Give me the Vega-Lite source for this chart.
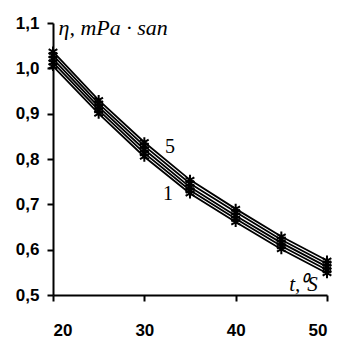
{
  "$schema": "https://vega.github.io/schema/vega-lite/v6.json",
  "width": 274,
  "height": 272,
  "autosize": "none",
  "padding": {"left": 53, "top": 23, "right": 20, "bottom": 47},
  "background": "white",
  "config": {"view": {"stroke": null}},
  "datasets": {
    "curves": [
      {"t": 20, "eta": 1.005, "s": "1"}, {"t": 25, "eta": 0.9, "s": "1"}, {"t": 30, "eta": 0.805, "s": "1"}, {"t": 35, "eta": 0.724, "s": "1"}, {"t": 40, "eta": 0.661, "s": "1"}, {"t": 45, "eta": 0.601, "s": "1"}, {"t": 50, "eta": 0.548, "s": "1"},
      {"t": 20, "eta": 1.013, "s": "2"}, {"t": 25, "eta": 0.908, "s": "2"}, {"t": 30, "eta": 0.813, "s": "2"}, {"t": 35, "eta": 0.731, "s": "2"}, {"t": 40, "eta": 0.668, "s": "2"}, {"t": 45, "eta": 0.608, "s": "2"}, {"t": 50, "eta": 0.555, "s": "2"},
      {"t": 20, "eta": 1.021, "s": "3"}, {"t": 25, "eta": 0.915, "s": "3"}, {"t": 30, "eta": 0.821, "s": "3"}, {"t": 35, "eta": 0.738, "s": "3"}, {"t": 40, "eta": 0.675, "s": "3"}, {"t": 45, "eta": 0.615, "s": "3"}, {"t": 50, "eta": 0.562, "s": "3"},
      {"t": 20, "eta": 1.029, "s": "4"}, {"t": 25, "eta": 0.922, "s": "4"}, {"t": 30, "eta": 0.829, "s": "4"}, {"t": 35, "eta": 0.746, "s": "4"}, {"t": 40, "eta": 0.683, "s": "4"}, {"t": 45, "eta": 0.622, "s": "4"}, {"t": 50, "eta": 0.569, "s": "4"},
      {"t": 20, "eta": 1.037, "s": "5"}, {"t": 25, "eta": 0.93, "s": "5"}, {"t": 30, "eta": 0.837, "s": "5"}, {"t": 35, "eta": 0.754, "s": "5"}, {"t": 40, "eta": 0.69, "s": "5"}, {"t": 45, "eta": 0.629, "s": "5"}, {"t": 50, "eta": 0.576, "s": "5"}
    ],
    "labels": [
      {"t": 32.8, "eta": 0.827, "text": "5"},
      {"t": 32.6, "eta": 0.722, "text": "1"}
    ],
    "ytitle": [{"t": 20.6, "eta": 1.088, "text": "η, mPa · san"}],
    "xtitle": [{"t": 49.0, "eta": 0.522, "text": "t,⁰S"}]
  },
  "encoding": {
    "x": {
      "field": "t", "type": "quantitative",
      "scale": {"domain": [20, 50], "nice": false, "zero": false},
      "axis": {
        "title": null, "values": [20, 30, 40, 50], "grid": false,
        "domainColor": "black", "domainWidth": 2, "tickColor": "black", "tickWidth": 2, "tickSize": 6,
        "labelFont": "Liberation Sans", "labelFontWeight": "bold", "labelFontSize": 17, "labelColor": "black",
        "labelPadding": 21
      }
    },
    "y": {
      "field": "eta", "type": "quantitative",
      "scale": {"domain": [0.5, 1.1], "nice": false, "zero": false},
      "axis": {
        "title": null, "values": [0.5, 0.6, 0.7, 0.8, 0.9, 1.0, 1.1], "grid": false,
        "labelExpr": "replace(format(datum.value, '.1f'), '.', ',')",
        "domainColor": "black", "domainWidth": 2, "tickColor": "black", "tickWidth": 2, "tickSize": 6,
        "labelFont": "Liberation Sans", "labelFontWeight": "bold", "labelFontSize": 17, "labelColor": "black",
        "labelPadding": 8
      }
    }
  },
  "layer": [
    {
      "data": {"name": "curves"},
      "mark": {"type": "line", "color": "black", "strokeWidth": 1.8},
      "encoding": {"detail": {"field": "s"}}
    },
    {
      "data": {"name": "curves"},
      "mark": {
        "type": "point", "filled": false, "color": "black", "strokeWidth": 2, "size": 100, "opacity": 1,
        "shape": "M0,-1L0,1M-0.87,-0.5L0.87,0.5M-0.87,0.5L0.87,-0.5"
      }
    },
    {
      "data": {"name": "labels"},
      "mark": {"type": "text", "font": "Liberation Serif", "fontSize": 20, "color": "black", "align": "center", "baseline": "middle"},
      "encoding": {"text": {"field": "text"}}
    },
    {
      "data": {"name": "ytitle"},
      "mark": {"type": "text", "font": "Liberation Serif", "fontStyle": "italic", "fontSize": 22, "color": "black", "align": "left", "baseline": "middle"},
      "encoding": {"text": {"field": "text"}}
    },
    {
      "data": {"name": "xtitle"},
      "mark": {"type": "text", "font": "Liberation Serif", "fontStyle": "italic", "fontSize": 21, "color": "black", "align": "right", "baseline": "middle"},
      "encoding": {"text": {"field": "text"}}
    }
  ]
}
